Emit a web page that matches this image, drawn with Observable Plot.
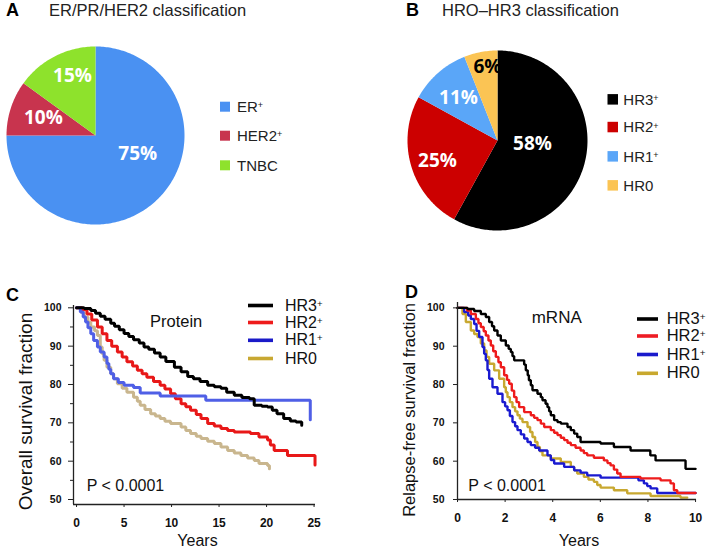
<!DOCTYPE html>
<html><head><meta charset="utf-8">
<script src="https://cdn.jsdelivr.net/npm/d3@7"></script>
<script src="https://cdn.jsdelivr.net/npm/@observablehq/plot@0.6"></script>
<style>
body{margin:0;background:#fff;}
#root{position:relative;width:713px;height:555px;overflow:hidden;font-family:"Liberation Sans",Arial,sans-serif;background:#fff;}
#root > svg, #root > figure{position:absolute;margin:0;}
</style></head><body><div id="root"></div>
<script>
// ---------------- DATA ----------------
const pieACategories = ["ER+", "HER2+", "TNBC"];
const pieAValues = [75, 10, 15];
const pieAColors = ["#4a91f2", "#c8344e", "#8ee22c"];
const pieALabelColors = ["#ffffff", "#ffffff", "#ffffff"];

const pieBCategories = ["HR3+", "HR2+", "HR1+", "HR0"];
const pieBValues = [58, 25, 11, 6];
const pieBColors = ["#000000", "#cc0000", "#5aa6f8", "#fbc454"];
const pieBLabelColors = ["#ffffff", "#ffffff", "#ffffff", "#000000"];

const seriesNames = ["HR3+", "HR2+", "HR1+", "HR0"];

// Panel C (protein): [years, overall survival %]
const proteinHR3 = [[0,100],[0.8,99.8],[1.5,99.3],[2,98.6],[2.5,97.8],[3,97],[3.6,96],[4,95.2],[4.5,94.3],[5,93.3],[5.5,92.5],[6,91.7],[6.6,90.8],[7.1,89.8],[7.6,89.2],[8.2,88.2],[8.8,87.2],[9.4,86],[10.3,84.5],[11,83.3],[11.7,82.1],[12.3,81.5],[13,80.8],[13.8,79.8],[14.5,79.4],[15.2,79],[15.8,78],[16.6,77.2],[17.4,76.6],[18.2,76.3],[18.7,74.6],[19.5,74.3],[20.1,74.1],[20.6,73.3],[21.1,72.4],[21.8,71.1],[22.5,70.5],[23.1,70.2],[23.7,69.4]];
const proteinHR2 = [[0,100],[0.6,99.5],[1.1,98.4],[1.6,96.8],[2.2,95],[2.7,93.2],[3.2,91.5],[3.7,90],[4.3,88.5],[4.8,87.2],[5.3,85.9],[5.9,84.8],[6.4,83.7],[6.9,82.8],[7.4,81.9],[8.1,80.8],[8.8,79.8],[9.3,78.8],[9.9,77.6],[10.4,76.3],[11,75],[11.5,74.2],[12,73.3],[12.6,72.2],[13.1,71.1],[13.8,69.8],[14.5,69.2],[15.2,68.5],[15.9,68],[16.6,67.6],[18.3,67.2],[19.2,66.3],[20.1,65.5],[20.4,64.2],[20.8,62.8],[22.2,61.5],[25.1,59]];
const proteinHR1 = [[0,100],[0.4,98.9],[0.7,97.6],[0.95,96.3],[1.2,94.8],[1.5,93.2],[1.8,91.5],[2.2,89.8],[2.5,88.5],[2.9,87.2],[3.2,85.5],[3.4,84],[3.6,82.8],[3.9,81.5],[4.4,80.5],[5,79.8],[6,79.2],[6.7,77.8],[8.8,77],[13.6,75.9],[24.6,70.8]];
const proteinHR0 = [[0,100],[0.5,98.8],[0.8,97.6],[1.2,96.2],[1.5,95],[1.9,94],[2.2,92.8],[2.5,89.8],[2.7,88],[2.9,86.3],[3.2,84.5],[3.6,82.8],[3.9,81.5],[4.3,80.2],[4.8,79],[5.3,78],[6,76.7],[6.4,75.6],[6.7,74.6],[7.2,73.5],[7.8,72.4],[8.3,71.8],[8.8,71.1],[9.3,70.4],[9.9,69.8],[11,68.9],[11.5,68],[12,67.2],[12.6,66.5],[13.1,65.9],[13.8,65.2],[14.5,64.6],[15.2,63.7],[15.9,62.8],[16.6,62.1],[17.3,61.5],[18,60.8],[18.7,60.2],[19.2,59.4],[20.1,58.9],[20.3,58]];

// Panel D (mRNA): [years, relapse-free survival %]
const mrnaHR3 = [[0,100],[0.42,99.7],[0.7,99.2],[0.98,98.4],[1.19,97.6],[1.33,96.3],[1.45,95.2],[1.54,94.1],[1.68,92.8],[1.82,91.5],[2.03,90.2],[2.15,89.3],[2.24,88.5],[2.31,87.4],[2.38,86.3],[2.8,85.2],[2.87,83.7],[2.95,82.4],[3.0,81.1],[3.08,79.8],[3.15,78.5],[3.36,77.6],[3.5,76.7],[3.57,75.9],[3.7,75],[3.78,74.1],[3.85,73],[3.92,72],[4.06,70.7],[4.2,70.2],[4.34,69.8],[4.62,68.9],[4.76,68.1],[4.9,67.2],[5.03,66.3],[5.17,65],[6.01,64.6],[6.57,63.7],[7.27,62.8],[8.1,61.5],[8.32,60.2],[9.58,58],[10,58]];
const mrnaHR2 = [[0,100],[0.4,99.3],[0.56,98.4],[0.77,97.1],[0.88,96],[0.98,95],[1.1,93.9],[1.19,92.8],[1.3,91.5],[1.4,90.2],[1.5,88.7],[1.61,87.2],[1.72,85.8],[1.82,84.5],[1.96,82.4],[2.08,81.2],[2.17,80.2],[2.28,78.4],[2.38,76.7],[2.48,75.4],[2.59,74.1],[2.8,72.8],[3.08,72],[3.22,71.3],[3.36,70.7],[3.5,69.8],[3.64,68.9],[3.92,68.1],[4.06,67.4],[4.2,66.8],[4.34,66.1],[4.48,65.5],[4.62,64.8],[4.76,64.2],[4.96,63.5],[5.17,62.8],[5.31,62.1],[5.45,61.5],[5.73,60.9],[6.15,60.2],[6.3,59.5],[6.43,58.9],[6.57,57.8],[6.71,56.8],[6.85,55.9],[7.69,55.5],[8.53,55],[8.95,54.2],[9.09,52.4],[9.23,51.7],[10,51.7]];
const mrnaHR1 = [[0,100],[0.28,98.9],[0.45,98],[0.56,97.1],[0.7,95.8],[0.8,94],[0.91,92.4],[1.05,89.8],[1.12,88],[1.19,86.3],[1.26,83.8],[1.33,81.5],[1.47,79.3],[1.68,77.6],[1.89,75.4],[2.0,74.3],[2.1,73.3],[2.2,71.8],[2.31,70.2],[2.42,69.1],[2.52,68.1],[2.66,67],[2.8,65.9],[2.94,65],[3.08,64.2],[3.26,63.5],[3.43,62.8],[3.78,61.5],[3.92,60.3],[4.06,59.4],[4.48,58.5],[4.9,57.6],[5.17,57],[5.45,56.3],[6.01,55.7],[7.6,55],[7.83,54.2],[7.97,53.5],[8.11,52.9],[8.39,51.7],[10,51.7]];
const mrnaHR0 = [[0,100],[0.21,98.4],[0.35,96.3],[0.56,94.1],[0.7,93.2],[0.84,92.4],[0.98,90.7],[1.12,88.9],[1.22,87.2],[1.33,85.4],[1.54,83.7],[1.75,81.5],[1.96,79.3],[2.03,78],[2.1,76.7],[2.2,75.4],[2.31,74.1],[2.42,73],[2.52,72],[2.62,71.1],[2.73,70.2],[2.94,68.9],[3.05,67.6],[3.15,66.3],[3.26,65],[3.36,63.7],[3.46,62.6],[3.57,61.5],[3.92,60.7],[4.34,59.8],[4.76,58.5],[4.9,57.6],[5.03,56.8],[5.31,55.9],[5.5,55.2],[5.73,54.6],[5.87,53.8],[6.01,53.1],[6.57,52.4],[7.13,51.6],[8.11,50.9],[9.37,50.5],[9.65,50.5]];

const proteinXTicks = [0, 5, 10, 15, 20, 25];
const mrnaXTicks = [0, 2, 4, 6, 8, 10];
const yTicks = [50, 60, 70, 80, 90, 100];
const yMinorTicks = [55, 65, 75, 85, 95];

// ---------------- LAYOUT / STYLE ----------------
const root = document.getElementById("root");
const FONT = "'Liberation Sans', Arial, sans-serif";

function place(el, left, top) {
  el.style.position = "absolute";
  el.style.left = left + "px";
  el.style.top = top + "px";
  root.appendChild(el);
}

// label placement (angle in degrees clockwise from 12 o'clock, radius fraction)
const pieALabelPlace = [[114, 0.52], [289, 0.62], [339, 0.72]];
const pieBLabelPlace = [[95.5, 0.39], [251, 0.705], [317.6, 0.642], [352.2, 0.822]];

function pieChart(categories, values, colors, labelColors, labelPlace, size) {
  const arcs = d3.pie().sort(null).value(d => d)(values);
  const pt = (a, r) => [r * Math.sin(a), r * Math.cos(a)];
  const features = arcs.map((a, i) => {
    const ring = [[0, 0]];
    const n = Math.max(2, Math.ceil((a.endAngle - a.startAngle) / (Math.PI / 180)));
    for (let k = 0; k <= n; k++) ring.push(pt(a.startAngle + (a.endAngle - a.startAngle) * k / n, 1));
    ring.push([0, 0]);
    return {type: "Feature", properties: {name: categories[i], color: colors[i]},
            geometry: {type: "Polygon", coordinates: [ring]}};
  });
  const circle = {type: "Polygon", coordinates: [d3.range(0, 361).map(k => pt(k * Math.PI / 180, 1))]};
  const labels = arcs.map((a, i) => {
    const [ang, r] = labelPlace[i];
    const p = pt(ang * Math.PI / 180, r);
    return {x: p[0], y: p[1], text: values[i] + "%", color: labelColors[i]};
  });
  return Plot.plot({
    width: size, height: size, margin: 0,
    style: {background: "transparent", overflow: "visible"},
    projection: {type: "reflect-y", domain: circle},
    color: {type: "identity"},
    marks: [
      Plot.geo(features, {fill: d => d.properties.color}),
      Plot.text(labels, {x: "x", y: "y", text: "text", fill: "color", fontSize: 19, fontWeight: "bold",
                         fontFamily: "'Open Sans', 'Liberation Sans', sans-serif"})
    ]
  });
}

function kmChart(opts) {
  const rows = [];
  opts.order.forEach(i => opts.series[i].forEach(([t, s]) => rows.push({group: seriesNames[i], t, s})));
  return Plot.plot({
    width: opts.width, height: opts.height,
    marginLeft: opts.ml, marginRight: opts.mr, marginTop: opts.mt, marginBottom: opts.mb,
    style: {background: "transparent", fontFamily: FONT, overflow: "visible", color: "#111"},
    x: {domain: opts.xDomain, axis: null},
    y: {domain: opts.yDomain, axis: null},
    color: {domain: seriesNames, range: opts.colors},
    marks: [
      Plot.line(rows, {x: "t", y: "s", z: "group", stroke: "group", curve: "step-after",
                       strokeWidth: opts.lineWidth, strokeLinejoin: "miter"}),
      Plot.ruleX([opts.xDomain[0]], {stroke: "#222", strokeWidth: 1.3}),
      Plot.ruleY([opts.yDomain[0]], {stroke: "#222", strokeWidth: 1.3}),
      Plot.axisY({ticks: yTicks, tickSize: opts.yTickSize, tickPadding: opts.yPad, fontSize: 10.5,
                  fontWeight: "bold", label: null, stroke: "#222", fill: "#111"}),
      ...(opts.minor ? [Plot.axisY({ticks: yMinorTicks, tickSize: 3, tickFormat: () => "", label: null, stroke: "#222"})] : []),
      Plot.axisX({ticks: opts.xTicks, tickSize: 3, tickPadding: opts.xPad, fontSize: 12,
                  fontWeight: "bold", label: null, stroke: "#222", fill: "#111"})
    ]
  });
}

// Pies
place(pieChart(pieACategories, pieAValues, pieAColors, pieALabelColors, pieALabelPlace, 178), 6, 46);
place(pieChart(pieBCategories, pieBValues, pieBColors, pieBLabelColors, pieBLabelPlace, 180), 407, 50);

// Survival charts
place(kmChart({
  series: [proteinHR3, proteinHR2, proteinHR1, proteinHR0], order: [3, 1, 2, 0],
  colors: ["#000000", "#e81818", "#4f5fe6", "#c9b68e"], lineWidth: 3,
  width: 330, height: 265, ml: 73, mr: 15, mt: 15, mb: 51,
  xDomain: [-0.32, 25.15], yDomain: [48.7, 100.6], xTicks: proteinXTicks,
  yTickSize: 5, yPad: 7, xPad: 11, minor: true
}), 0, 290);

place(kmChart({
  series: [mrnaHR3, mrnaHR2, mrnaHR1, mrnaHR0], order: [3, 2, 1, 0],
  colors: ["#000000", "#ee1c1c", "#1a1ad0", "#c8a830"], lineWidth: 2.4,
  width: 353, height: 265, ml: 97, mr: 17, mt: 12, mb: 56,
  xDomain: [0, 10.04], yDomain: [50, 101.4], xTicks: mrnaXTicks,
  yTickSize: 4, yPad: 9, xPad: 11, minor: false
}), 360, 290);

// ---------------- TEXT / LEGEND OVERLAY ----------------
const sup = (s) => `${s}<tspan dy="-0.4em" font-size="0.6em">+</tspan>`;
const legendLabel = (name) => name.endsWith("+") ? sup(name.slice(0, -1)) : name;

let o = "";
const txt = (x, y, s, size, extra = "") => { o += `<text x="${x}" y="${y}" font-size="${size}" ${extra}>${s}</text>`; };

// Panel letters & titles
txt(6, 16, "A", 18, 'font-weight="bold"');
txt(49, 15.5, "ER/PR/HER2 classification", 16.5, 'fill="#222"');
txt(406, 16, "B", 18, 'font-weight="bold"');
txt(442, 15.5, "HRO–HR3 classification", 16.5, 'fill="#222"');
txt(6, 301, "C", 18, 'font-weight="bold"');
txt(405, 297.5, "D", 18, 'font-weight="bold"');

// Pie legends
const legA_y = [106.7, 135.7, 165.3];
pieACategories.forEach((c, i) => {
  o += `<rect x="220" y="${legA_y[i] - 5}" width="10" height="10" fill="${pieAColors[i]}"/>`;
  txt(237, legA_y[i] + 5.3, legendLabel(c), 15, 'fill="#222"');
});
const legB_y = [99.3, 127, 156.3, 185.3];
pieBCategories.forEach((c, i) => {
  o += `<rect x="607.5" y="${legB_y[i] - 5.2}" width="10.5" height="10.5" fill="${pieBColors[i]}"/>`;
  txt(623.3, legB_y[i] + 5.2, legendLabel(c), 15, 'fill="#222"');
});

// KM legends
const legC_y = [305.5, 322.5, 340.3, 358.5];
const legC_col = ["#000000", "#ee1c1c", "#1a1ac8", "#c8a832"];
seriesNames.forEach((c, i) => {
  o += `<line x1="248" x2="273" y1="${legC_y[i]}" y2="${legC_y[i]}" stroke="${legC_col[i]}" stroke-width="3.6"/>`;
  txt(285, legC_y[i] + 5, legendLabel(c), 16, 'fill="#111"');
});
const legD_y = [319, 336, 354.5, 373.3];
const legD_col = ["#000000", "#ee1c24", "#1a1acc", "#c8a82e"];
seriesNames.forEach((c, i) => {
  o += `<line x1="637" x2="658" y1="${legD_y[i]}" y2="${legD_y[i]}" stroke="${legD_col[i]}" stroke-width="3.6"/>`;
  txt(666.7, legD_y[i] + 5, legendLabel(c), 16.5, 'fill="#111"');
});

// Annotations
txt(150, 326.7, "Protein", 16.5, 'fill="#111"');
txt(531.7, 323.3, "mRNA", 17, 'fill="#111"');
txt(86.7, 490.7, "P &lt; 0.0001", 16, 'fill="#111"');
txt(468.3, 490.7, "P &lt; 0.0001", 16, 'fill="#111"');
txt(197.5, 546, "Years", 16, 'fill="#111" text-anchor="middle"');
txt(579, 546, "Years", 16, 'fill="#111" text-anchor="middle"');
o += `<text transform="translate(32,411.5) rotate(-90)" text-anchor="middle" font-size="19" fill="#111">Overall survival fraction</text>`;
o += `<text transform="translate(415.2,410) rotate(-90)" text-anchor="middle" font-size="16.5" fill="#111">Relapse-free survival fraction</text>`;

const overlay = document.createElementNS("http://www.w3.org/2000/svg", "svg");
overlay.setAttribute("width", 713);
overlay.setAttribute("height", 555);
overlay.setAttribute("font-family", FONT);
overlay.style.pointerEvents = "none";
overlay.innerHTML = o;
place(overlay, 0, 0);
</script></body></html>
